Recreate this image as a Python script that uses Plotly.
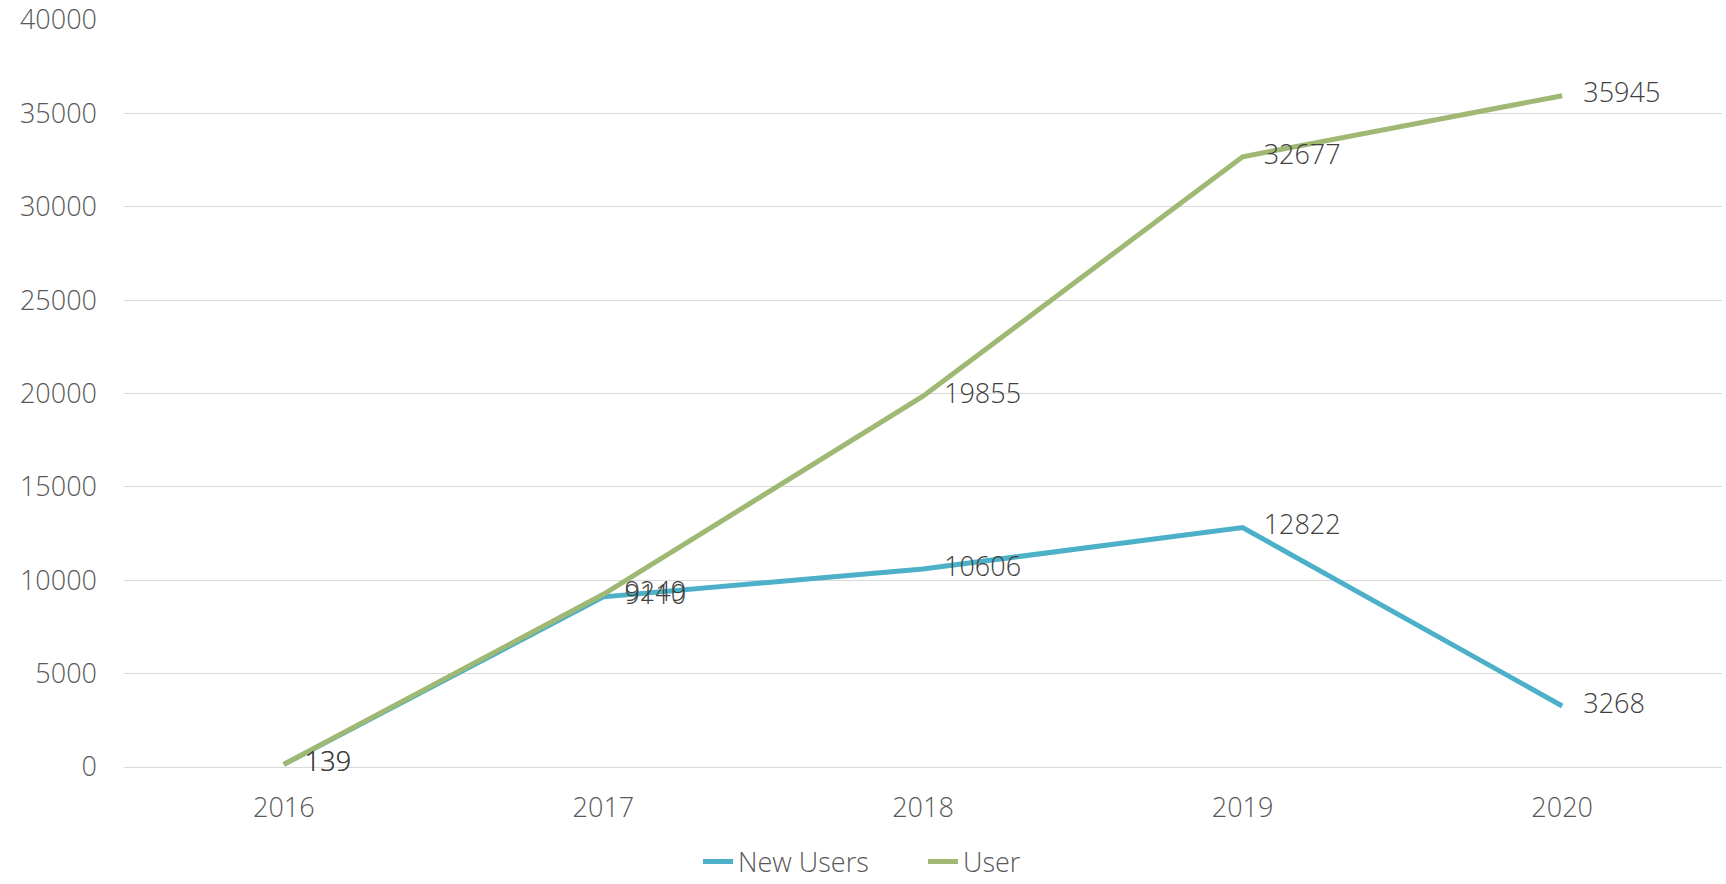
import plotly.graph_objects as go

years = ["2016", "2017", "2018", "2019", "2020"]
new_users = [139, 9110, 10606, 12822, 3268]
users = [139, 9249, 19855, 32677, 35945]

teal = "#4BB0C8"
green = "#9FB873"
FONT = "Open Sans"

def labels(vals):
    return ["   " + str(v) for v in vals]

fig = go.Figure()
fig.add_trace(go.Scatter(
    x=years, y=new_users, name="New Users", mode="lines+text",
    line=dict(color=teal, width=5),
    text=labels(new_users), textposition="middle right",
    textfont=dict(family=FONT, size=27, color="#404040", weight=300),
    cliponaxis=False,
))
fig.add_trace(go.Scatter(
    x=years, y=users, name="User", mode="lines+text",
    line=dict(color=green, width=5),
    text=labels(users), textposition="middle right",
    textfont=dict(family=FONT, size=27, color="#404040", weight=300),
    cliponaxis=False,
))

fig.update_layout(
    width=1726, height=884,
    paper_bgcolor="white", plot_bgcolor="white",
    margin=dict(l=124, r=4, t=20, b=117, autoexpand=False),
    font=dict(family=FONT, color="#595959", size=27, weight=300),
    showlegend=True,
    legend=dict(orientation="h", x=0.5, xanchor="center",
                y=-0.127, yanchor="middle", entrywidth=180, entrywidthmode="pixels",
                font=dict(size=27, color="#595959", weight=300), traceorder="normal"),
    xaxis=dict(type="category", range=[-0.5, 4.5], showgrid=False, showline=False,
               zeroline=False, ticks="", automargin=False,
               tickfont=dict(size=27, color="#595959", weight=300),
               ticklabelstandoff=22),
    yaxis=dict(range=[0, 40000], dtick=5000, tickformat="d", showgrid=True,
               gridcolor="#D9D9D9", gridwidth=1.3, zeroline=True,
               zerolinecolor="#D9D9D9", zerolinewidth=1.3, automargin=False,
               showline=False, ticks="", tickfont=dict(size=27, color="#595959", weight=300),
               ticklabelstandoff=26),
)

fig.write_html("out.html", config={"displayModeBar": False},
               post_script="document.body.style.margin='0';document.body.style.overflow='hidden';")
